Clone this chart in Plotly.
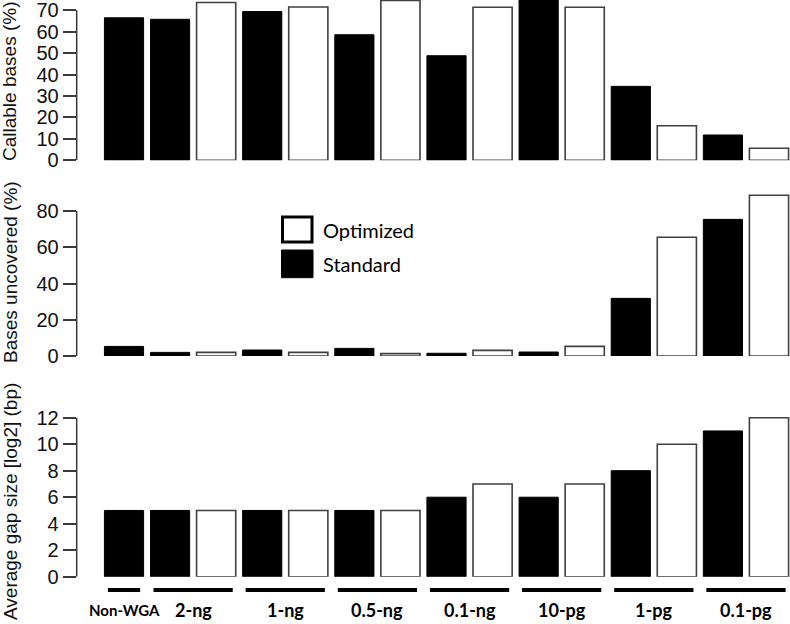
import plotly.graph_objects as go

# ---------------- data ----------------
groups = ["Non-WGA", "2-ng", "1-ng", "0.5-ng", "0.1-ng", "10-pg", "1-pg", "0.1-pg"]
# Standard exists for every group, Optimized for every group except Non-WGA
callable_standard = [66.5, 65.8, 69.4, 58.6, 48.8, 75.0, 34.5, 11.8]
callable_optimized = [73.6, 71.5, 74.6, 71.4, 71.4, 16.1, 5.6]
uncovered_standard = [5.3, 2.0, 3.3, 4.2, 1.5, 2.2, 31.8, 75.4]
uncovered_optimized = [2.0, 2.0, 1.3, 3.1, 5.3, 65.5, 88.7]
gap_standard = [5, 5, 5, 5, 6, 6, 8, 11]
gap_optimized = [5, 5, 5, 7, 7, 10, 12]

ticks_callable = [0, 10, 20, 30, 40, 50, 60, 70]
ticks_uncovered = [0, 20, 40, 60, 80]
ticks_gap = [0, 2, 4, 6, 8, 10, 12]

titles = ["Callable bases (%)", "Bases uncovered (%)", "Average gap size [log2] (bp)"]

# ---------------- layout helpers ----------------
W, H = 790, 624
def fx(p):
    return p / W
def fy(p):
    return 1 - p / H

# bar slot positions: Non-WGA single bar, other groups Standard then Optimized
std_x = [0] + [1 + 2 * i for i in range(len(groups) - 1)]
opt_x = [2 + 2 * i for i in range(len(groups) - 1)]
group_center = [0] + [1.5 + 2 * i for i in range(len(groups) - 1)]
group_half = [0.35] + [0.86] * (len(groups) - 1)

BW = 0.85
xrange_ = [-1.027, 14.456]
axis_px = 76.7

panels = [
    # (std values, opt values, range, domain(px bottom, px top), ticks, title center px)
    (callable_standard, callable_optimized, [0, 74.8], (160.3, 0.0), ticks_callable, 82),
    (uncovered_standard, uncovered_optimized, [0, 90], (356.0, 192.9), ticks_uncovered, 272),
    (gap_standard, gap_optimized, [0, 12.3], (576.7, 413.7), ticks_gap, 502),
]

fig = go.Figure()
shapes = []
annotations = []
TICKFONT = dict(family="Liberation Sans, Arial, sans-serif", size=20, color="#111")
AXCOL = "#3a3a3a"

for i, (sv, ov, yr, (pb, pt), tk, tc) in enumerate(panels):
    n = i + 1
    xa = "x" if n == 1 else f"x{n}"
    ya = "y" if n == 1 else f"y{n}"
    fig.add_trace(go.Bar(x=std_x, y=sv, width=BW, xaxis=xa, yaxis=ya,
                         marker=dict(color="black", line=dict(color="black", width=1)),
                         name="Standard", showlegend=False))
    fig.add_trace(go.Bar(x=opt_x, y=ov, width=BW, xaxis=xa, yaxis=ya,
                         marker=dict(color="white", line=dict(color="#404040", width=1.6)),
                         name="Optimized", showlegend=False))
    xkey = "xaxis" if n == 1 else f"xaxis{n}"
    ykey = "yaxis" if n == 1 else f"yaxis{n}"
    fig.update_layout(**{
        xkey: dict(domain=[fx(axis_px), 1], range=xrange_, visible=False, anchor=ya,
                   automargin=False),
        ykey: dict(domain=[fy(pb), fy(pt)], range=yr, anchor=xa, automargin=False,
                   tickvals=tk, ticks="outside", ticklen=13, tickwidth=1.5, tickcolor=AXCOL,
                   ticklabeloverflow="allow",
                   showgrid=False, zeroline=False, showline=False, tickfont=TICKFONT),
    })
    # axis line only spans the tick range
    shapes.append(dict(type="line", xref="paper", yref=ya, x0=fx(axis_px), x1=fx(axis_px),
                       y0=tk[0], y1=tk[-1], line=dict(color=AXCOL, width=1.5)))
    annotations.append(dict(text=titles[i], xref="paper", yref="paper", x=fx(10), y=fy(tc),
                            xanchor="center", yanchor="middle", textangle=-90, showarrow=False,
                            font=dict(family="Liberation Sans, Arial, sans-serif", size=19, color="#111")))

# group bars and labels under bottom panel
for g, c, h in zip(groups, group_center, group_half):
    shapes.append(dict(type="line", xref="x3", yref="paper", x0=c - h, x1=c + h,
                       y0=fy(590), y1=fy(590), line=dict(color="black", width=4)))
    annotations.append(dict(text=f"<b>{g}</b>", xref="x3", yref="paper", x=c, y=fy(609.5),
                            xanchor="center", yanchor="middle", showarrow=False,
                            font=dict(family="Lato, sans-serif", size=15 if g == "Non-WGA" else 18,
                                      color="black")))

# legend (drawn in middle panel area)
shapes.append(dict(type="rect", xref="paper", yref="paper", x0=fx(282.5), x1=fx(312),
                   y0=fy(242), y1=fy(217), fillcolor="white", line=dict(color="black", width=3)))
shapes.append(dict(type="rect", xref="paper", yref="paper", x0=fx(281.5), x1=fx(313),
                   y0=fy(277.7), y1=fy(250), fillcolor="black", line=dict(color="black", width=1)))
for label, cy in [("Optimized", 229.5), ("Standard", 264)]:
    annotations.append(dict(text=label, xref="paper", yref="paper", x=fx(320.5), y=fy(cy),
                            xanchor="left", yanchor="middle", showarrow=False,
                            font=dict(family="Lato, sans-serif", size=20, color="black")))

fig.update_layout(width=W, height=H, margin=dict(l=0, r=0, t=0, b=0, pad=0, autoexpand=False),
                  paper_bgcolor="white", plot_bgcolor="white", barmode="overlay",
                  shapes=shapes, annotations=annotations, showlegend=False)

fig.write_html("out.html", config={"displayModeBar": False},
               post_script="document.body.style.margin='0';document.body.style.padding='0';"
                           "document.body.style.overflow='hidden';")
